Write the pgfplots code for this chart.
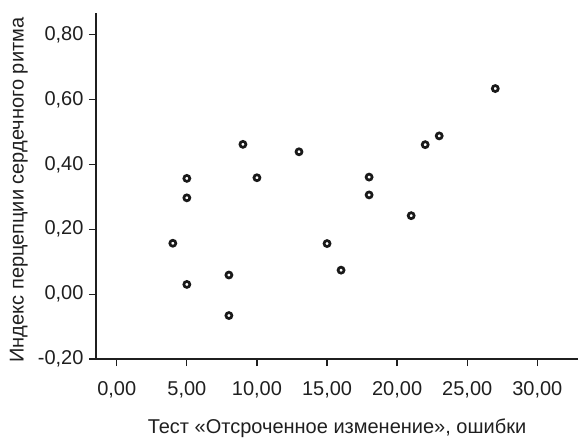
\documentclass[border=0pt]{standalone}
\usepackage{pgfplots}
\pgfplotsset{compat=1.18}
\usepackage{fontspec}
\setmainfont{Liberation Sans}
\begin{document}
\begin{tikzpicture}
\begin{axis}[
  scale only axis,
  width=482pt, height=346pt,
  xmin=-1.48, xmax=32.9,
  ymin=-0.20, ymax=0.867,
  axis x line=bottom, axis y line=left,
  axis line style={line width=1.3pt, draw=black!88, -},
  tick align=outside,
  tick style={line width=1.3pt, draw=black!88},
  major tick length=7pt,
  xtick={0,5,10,15,20,25,30},
  xticklabels={{0,00},{5,00},{10,00},{15,00},{20,00},{25,00},{30,00}},
  ytick={-0.2,0,0.2,0.4,0.6,0.8},
  yticklabels={{-0,20},{0,00},{0,20},{0,40},{0,60},{0,80}},
  ticklabel style={font=\fontsize{20}{22}\selectfont, text=black!88},
  xticklabel style={yshift=-12pt},
  yticklabel style={xshift=-2pt},
  xlabel={Тест «Отсроченное изменение», ошибки},
  ylabel={Индекс перцепции сердечного ритма},
  label style={font=\fontsize{20}{22}\selectfont, text=black!88},
  xlabel style={at={(rel axis cs:0.5,0)}, anchor=center, yshift=-69pt},
  ylabel style={at={(rel axis cs:-0.16,0.488)}, anchor=center},
  clip=false,
]
\addplot[only marks, mark=o, mark size=3pt,
         mark options={line width=2.7pt, draw=black!90}]
  coordinates {
    (9,0.462) (5,0.357) (10,0.359) (5,0.297) (4,0.157)
    (8,0.059) (5,0.030) (8,-0.066) (13,0.439) (18,0.361)
    (18,0.306) (15,0.156) (16,0.074) (27,0.634) (23,0.488)
    (22,0.461) (21,0.242)
  };
\end{axis}
\path (current axis.south west) ++(-96pt,-82pt) coordinate (bl);
\path (current axis.north east) ++(3pt,13pt) coordinate (tr);
\useasboundingbox (bl) rectangle (tr);
\end{tikzpicture}
\end{document}
